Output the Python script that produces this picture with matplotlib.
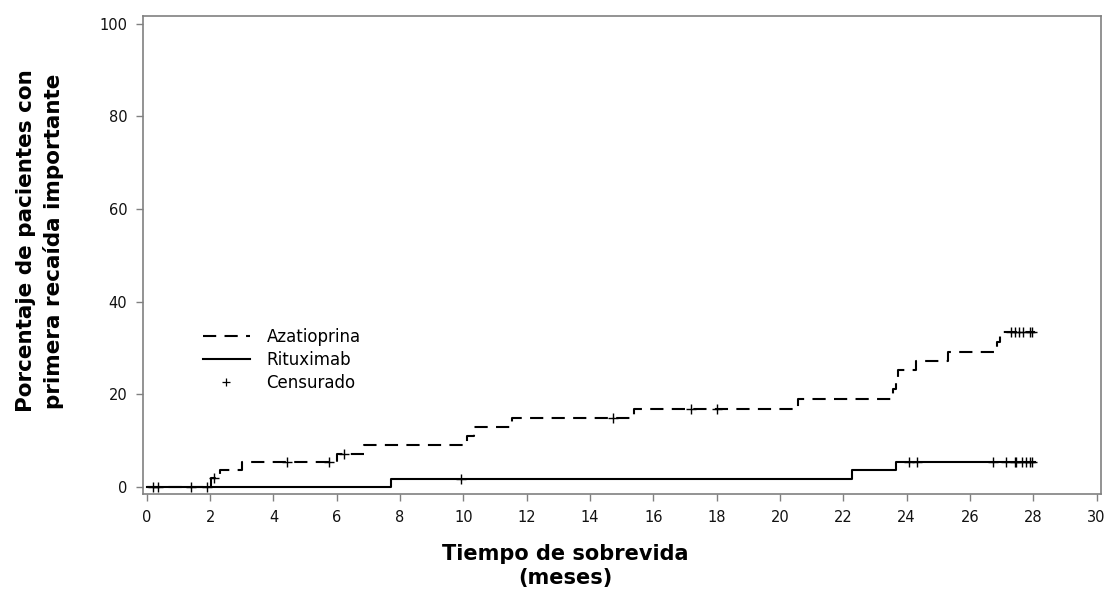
import numpy as np
import matplotlib
matplotlib.use("Agg")
import matplotlib.pyplot as plt
from matplotlib.lines import Line2D

plt.rcParams['font.family'] = ['DejaVu Sans']
plt.rcParams['lines.scale_dashes'] = False

# --- data ---
aza_times = [0, 2.04, 2.31, 3.02, 6.01, 6.86, 10.10, 10.35, 11.54, 15.40, 20.57,
             23.58, 23.66, 23.73, 24.31, 25.31, 26.84, 26.94]
aza_values = [0, 1.9, 3.6, 5.4, 7.2, 9.1, 11.0, 13.0, 14.9, 16.9, 18.9,
              21.1, 23.2, 25.2, 27.1, 29.2, 31.3, 33.5]
aza_end = 28.04
aza_censor = [0.18, 1.39, 2.12, 4.44, 5.77, 6.23, 14.74, 17.18, 18.0,
              27.31, 27.41, 27.55, 27.68, 27.91, 27.96]

rit_times = [0, 7.70, 22.28, 23.66]
rit_values = [0, 1.8, 3.6, 5.45]
rit_end = 28.04
rit_censor = [0.34, 1.89, 9.93, 24.08, 24.33, 26.73, 27.13, 27.41, 27.46,
              27.65, 27.78, 27.91, 27.96]

x_ticks = list(range(0, 31, 2))
y_ticks = [0, 20, 40, 60, 80, 100]
legend_labels = ["Azatioprina", "Rituximab", "Censurado"]
x_label = "Tiempo de sobrevida\n(meses)"
y_label = "Porcentaje de pacientes con\nprimera recaída importante"


def step_value(times, values, t):
    idx = np.searchsorted(np.asarray(times), np.asarray(t), side='right') - 1
    return np.asarray(values)[idx]


fig = plt.figure(figsize=(11.07, 5.89), dpi=100)
ax = fig.add_axes([0.1289, 0.1608, 0.8654, 0.8120])

dash = (0, (9.5, 6))
lw = 1.5
ax.step(aza_times + [aza_end], aza_values + [aza_values[-1]], where='post',
        color='black', lw=lw, linestyle=dash)
ax.step(rit_times + [rit_end], rit_values + [rit_values[-1]], where='post',
        color='black', lw=lw, linestyle='-')

ax.plot(aza_censor, step_value(aza_times, aza_values, aza_censor), linestyle='none',
        marker='+', markersize=7, markeredgewidth=1.0, color='black')
ax.plot(rit_censor, step_value(rit_times, rit_values, rit_censor), linestyle='none',
        marker='+', markersize=7, markeredgewidth=1.0, color='black')

ax.set_xlim(-0.13, 30.13)
ax.set_ylim(-1.6, 101.7)
ax.set_xticks(x_ticks)
ax.set_yticks(y_ticks)
ax.tick_params(axis='both', direction='out', length=5, width=1.0, color='#808080',
               labelsize=10.5, labelcolor='#111111', pad=6)

for sp in ax.spines.values():
    sp.set_color('#808080')
    sp.set_linewidth(1.2)

handles = [
    Line2D([], [], color='black', lw=lw, linestyle=dash),
    Line2D([], [], color='black', lw=lw, linestyle='-'),
    Line2D([], [], color='black', linestyle='none', marker='+', markersize=6,
           markeredgewidth=0.9),
]
ax.legend(handles, legend_labels, loc='upper left', bbox_to_anchor=(0.063, 0.347),
          frameon=False, fontsize=12, handlelength=2.8, handletextpad=1.0,
          labelspacing=0.28, borderpad=0, borderaxespad=0)

fig.text(565 / 1107, 1 - 566 / 589, x_label, ha='center', va='center',
         fontsize=15, fontweight='bold', linespacing=1.22)
fig.text(40 / 1107, 1 - 241 / 589, y_label, ha='center', va='center',
         rotation=90, fontsize=15.5, fontweight='bold', linespacing=1.45)

fig.savefig("out.png", dpi=100)
